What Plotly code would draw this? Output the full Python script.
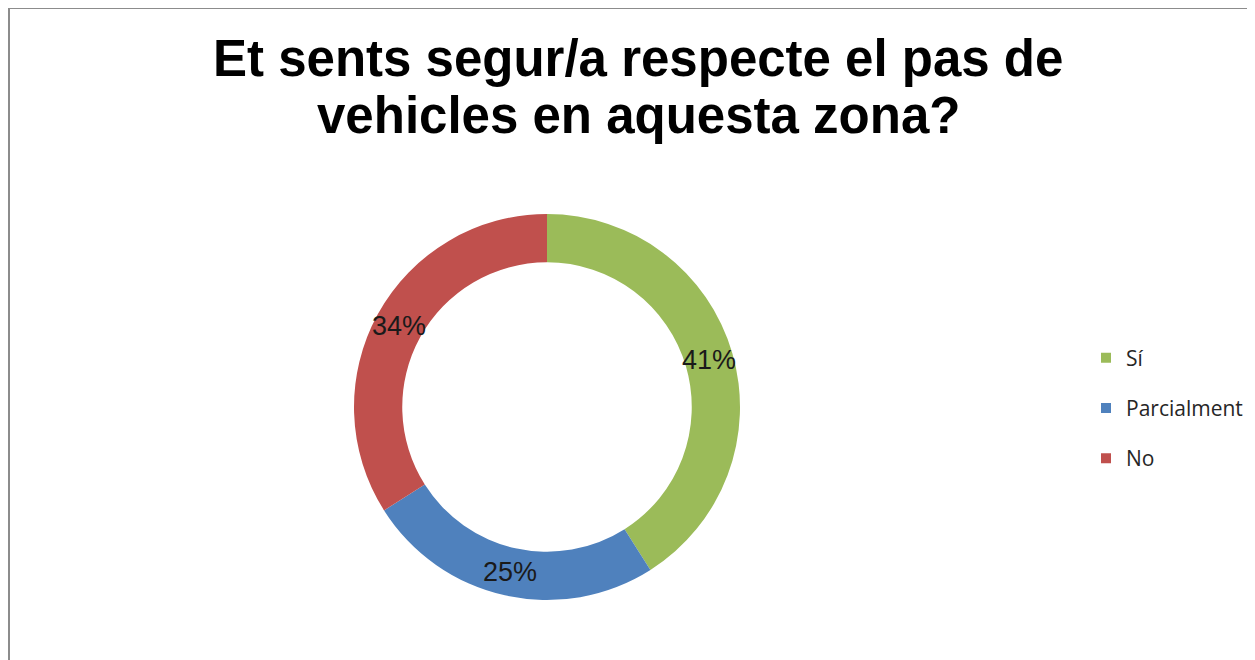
import math
import plotly.graph_objects as go

# survey answers (share of respondents, %)
respostes = ["Sí", "Parcialment", "No"]
percentatges = [41, 25, 34]
colors = ["#9BBB59", "#4F81BD", "#C0504D"]
titol = ["Et sents segur/a respecte el pas de", "vehicles en aquesta zona?"]

# page has an 8px body margin, so the figure is 8px smaller than the window
W, H = 1247, 652
cx, cy, radi = 539, 399, 193   # donut centre / outer radius in px
forat = 0.75

fig = go.Figure()

fig.add_trace(go.Pie(
    labels=respostes,
    values=percentatges,
    hole=forat,
    sort=False,
    direction="clockwise",
    rotation=0,
    marker=dict(colors=colors, line=dict(width=0)),
    textinfo="none",
    showlegend=False,
    hoverinfo="label+percent",
    domain=dict(x=[(cx - radi) / W, (cx + radi) / W],
                y=[(H - cy - radi) / H, (H - cy + radi) / H]),
))

# percentage labels at the middle of each slice, on the ring
total = sum(percentatges)
acum = 0
r_txt = radi * (1 + forat) / 2
for v in percentatges:
    ang = math.radians((acum + v / 2) / total * 360)
    acum += v
    fig.add_annotation(
        x=(cx + r_txt * math.sin(ang)) / W, y=(H - cy + r_txt * math.cos(ang)) / H,
        xref="paper", yref="paper", xanchor="center", yanchor="middle",
        text=f"{round(v / total * 100)}%", showarrow=False,
        font=dict(family="Liberation Sans, Arial", size=27, color="#1a1a1a"),
    )

# title, two lines placed separately to keep the tight line spacing
for i, linia in enumerate(titol):
    fig.add_annotation(
        x=630 / W, y=1 - (51 + 56 * i) / H, xref="paper", yref="paper",
        xanchor="center", yanchor="middle", text=f"<b>{linia}</b>", showarrow=False,
        font=dict(family="Liberation Sans, Arial", size=51, color="#000000"),
    )

# legend entries, one group each so the gap between them can be set
for nom, col in zip(respostes, colors):
    fig.add_trace(go.Scatter(
        x=[None], y=[None], mode="markers", name=nom, legendgroup=nom,
        marker=dict(symbol="square", size=10, color=col),
        hoverinfo="skip",
    ))

fig.update_layout(
    width=W, height=H,
    margin=dict(l=0, r=0, t=0, b=0),
    paper_bgcolor="white",
    plot_bgcolor="white",
    xaxis=dict(visible=False),
    yaxis=dict(visible=False),
    legend=dict(
        x=1078 / W, xanchor="left",
        y=1 - 400 / H, yanchor="middle",
        font=dict(family="Open Sans, Noto Sans", size=21, color="#262626"),
        tracegroupgap=20,
        itemwidth=30,
        bgcolor="rgba(0,0,0,0)",
    ),
    shapes=[
        dict(type="line", xref="paper", yref="paper", x0=1 / W, x1=1, y0=1, y1=1,
             line=dict(color="#8c8c8c", width=2)),
        dict(type="line", xref="paper", yref="paper", x0=1 / W, x1=1 / W, y0=0, y1=1,
             line=dict(color="#8c8c8c", width=2)),
    ],
)

fig.write_html("out.html")
